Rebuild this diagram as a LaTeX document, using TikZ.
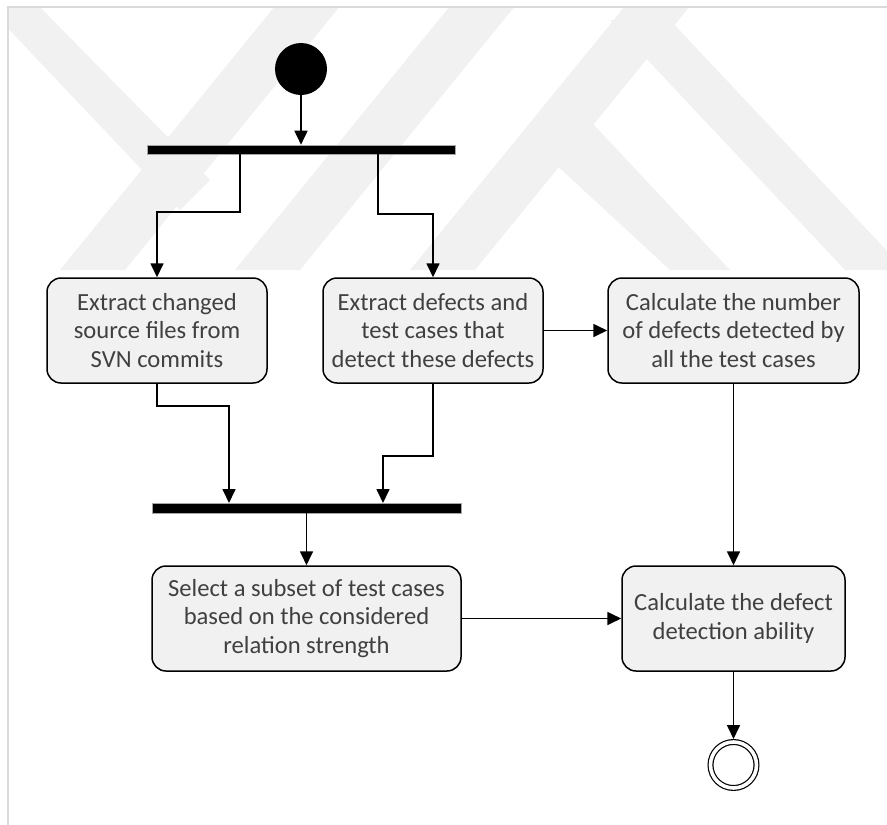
\documentclass[tikz,border=0pt]{standalone}
\usepackage{fontspec}
\setmainfont{Carlito}
\usetikzlibrary{arrows.meta,positioning,calc}
\definecolor{txtgray}{RGB}{64,64,64}
\definecolor{boxfill}{RGB}{241,241,241}
\definecolor{wmark}{RGB}{241,241,241}
\definecolor{framegray}{RGB}{218,218,218}
\tikzset{
  actbox/.style={draw=black, line width=1.5pt, fill=boxfill, rounded corners=14pt,
    minimum height=105pt, align=center, text=txtgray, inner sep=3pt,
    font=\fontsize{24.6}{28.5}\selectfont},
  syncbar/.style={draw=gray!70, line width=0.6pt, fill=black, inner sep=0pt},
  arr/.style={line width=1.7pt, -{Triangle[width=13pt,length=14pt]}},
  wm/.style={fill=wmark, draw=none}
}
\begin{document}
\begin{tikzpicture}[x=1pt,y=-1pt]
\useasboundingbox (0,0) rectangle (887,825);
% faint watermark
\begin{scope}
\clip (8,7) rectangle (887,270);
\fill[wm] (0,20) -- (0,0) -- (33,0) -- (210,180) -- (180,210) -- cycle;
\fill[wm] (60,270) -- (125,270) -- (345,0) -- (280,0) -- cycle;
\fill[wm] (235,270) -- (300,270) -- (520,0) -- (455,0) -- cycle;
\fill[wm] (410,270) -- (475,270) -- (695,0) -- (630,0) -- cycle;
\fill[wm] (610,20) -- (670,20) -- (905,270) -- (845,270) -- cycle;
\fill[wm] (540,150) -- (580,110) -- (730,270) -- (670,270) -- cycle;
\end{scope}
% frame
\draw[framegray, line width=1.5pt] (887,7) -- (8,7) -- (8,825);

% nodes
\node[circle, fill=black, minimum size=52pt, inner sep=0pt] (start) at (301,69) {};
\node[syncbar, minimum width=308pt, minimum height=9pt] (fork) at (301,149.5) {};
\node[actbox, minimum width=220pt] (b1) at (157,330.5) {Extract changed\\source files from\\SVN commits};
\node[actbox, minimum width=220pt] (b2) at (433,330.5) {Extract defects and\\test cases that\\detect these defects};
\node[actbox, minimum width=251pt] (b3) at (733.5,330.5) {Calculate the number\\of defects detected by\\all the test cases};
\node[syncbar, minimum width=309pt, minimum height=10pt] (join) at (306.5,508) {};
\node[actbox, minimum width=309pt] (b4) at (306.5,618.5) {Select a subset of test cases\\based on the considered\\relation strength};
\node[actbox, minimum width=223pt] (b5) at (733.5,618.5) {Calculate the defect\\detection ability};
\node[circle, draw=black, double, double distance=3.6pt, line width=1.2pt, minimum size=46pt, inner sep=0pt, outer sep=3pt] (end) at (733.5,765) {};

\coordinate (f1) at (240,154);
\coordinate (f2) at (378,154);
\coordinate (j1) at (229,503);
\coordinate (j2) at (383,503);

% connectors
\draw[arr] (start) -- (start |- fork.north);
\draw[arr] (f1) -- ++(0,58) -| (b1.north);
\draw[arr] (f2) -- ++(0,60) -| (b2.north);
\draw[arr] (b1.south) -- ++(0,22) -| (j1);
\draw[arr] (b2.south) -- ++(0,72) -| (j2);
\draw[arr] (join) -- (b4);
\draw[arr] (b2.east) -- (b3.west);
\draw[arr] (b4.east) -- (b5.west);
\draw[arr] (b3.south) -- (b5.north);
\draw[arr] (b5.south) -- (end);
\end{tikzpicture}
\end{document}
